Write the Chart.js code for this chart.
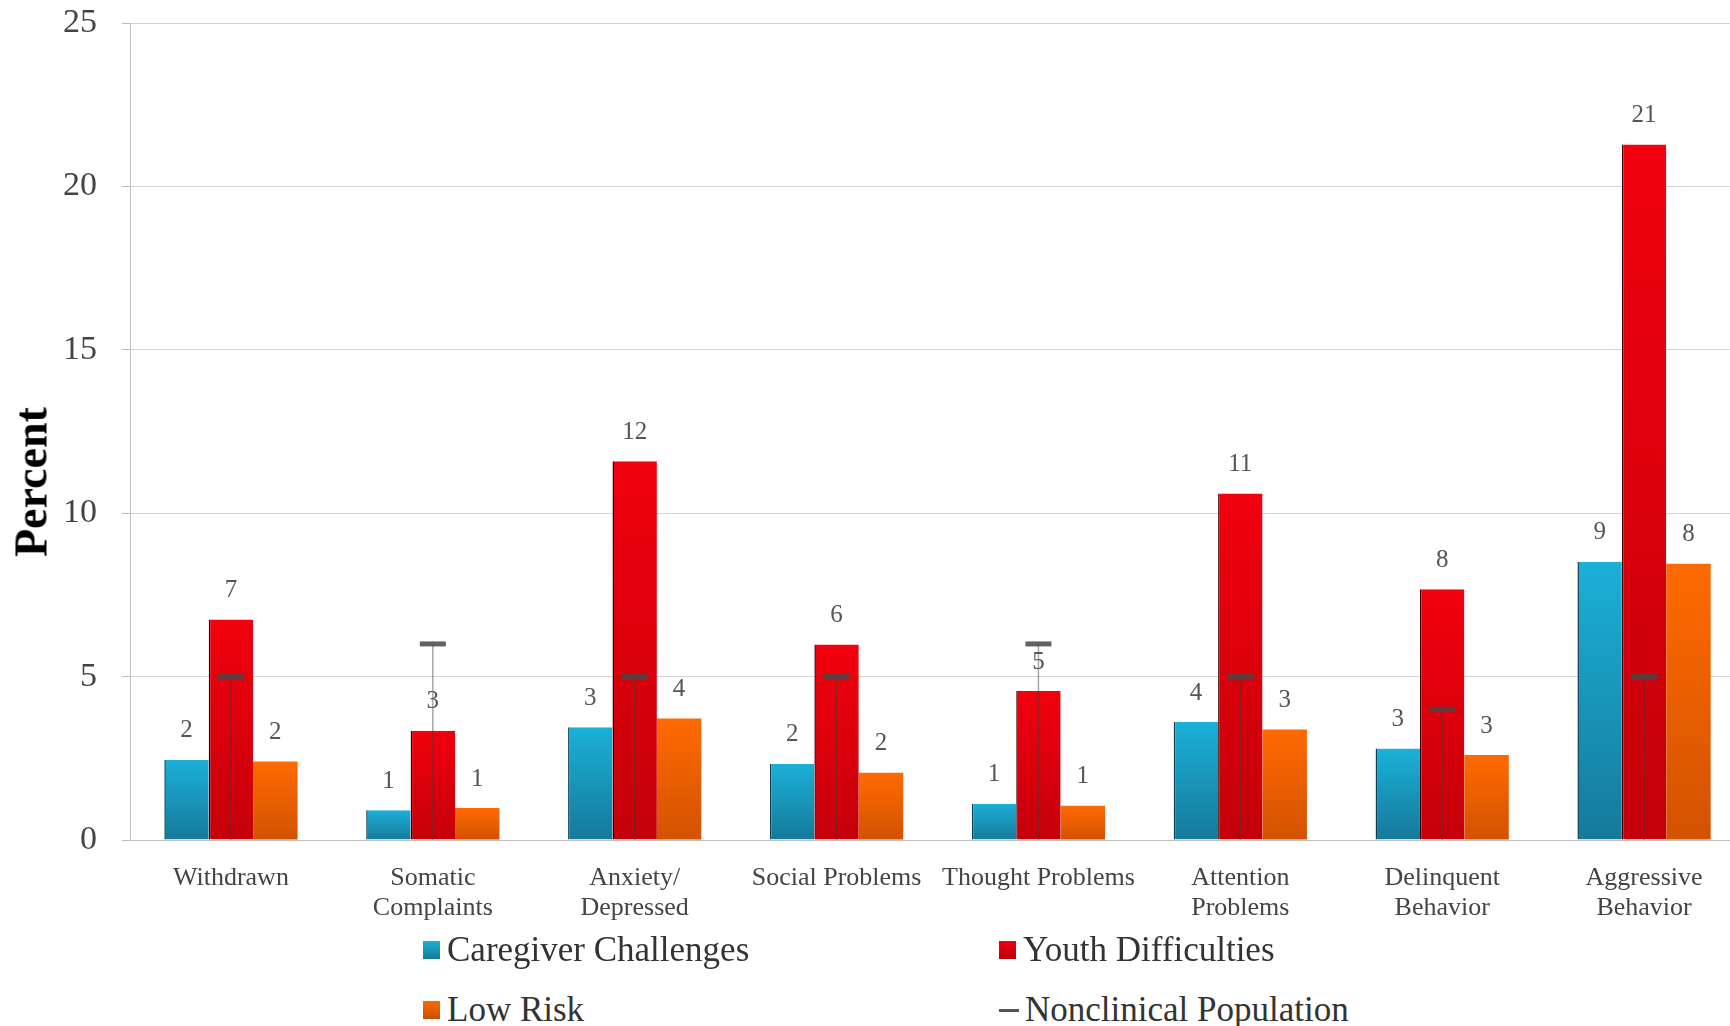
<!DOCTYPE html>
<html>
<head>
<meta charset="utf-8">
<script src="https://cdn.jsdelivr.net/npm/chart.js@4/dist/chart.umd.min.js"></script>
<style>
html, body { margin: 0; padding: 0; background: #fff; overflow: hidden; width: 1730px; height: 1026px; }
#wrap { position: absolute; left: 0; top: 0; width: 1745px; height: 940px; }
#yTitle { position: absolute; left: 31px; top: 482px; transform: translate(-50%, -50%) rotate(-90deg);
  font: bold 46px "Liberation Serif"; color: #000; white-space: nowrap; }
.item { position: absolute; display: flex; align-items: center; font: 35px "Liberation Serif"; color: #333;
  white-space: nowrap; transform: translateY(-50%); }
.box { width: 17px; height: 18px; margin-right: 7px; }
.dash { width: 20px; height: 3px; margin-right: 6px; background: #555; }
</style>
</head>
<body>
<div id="wrap"><canvas id="myChart"></canvas></div>
<div id="yTitle">Percent</div>
<div id="legend"></div>
<script>
'use strict'

let categories = [['Withdrawn'], ['Somatic', 'Complaints'], ['Anxiety/', 'Depressed'], ['Social Problems'],
    ['Thought Problems'], ['Attention', 'Problems'], ['Delinquent', 'Behavior'], ['Aggressive', 'Behavior']]
let caregiver = [2.45, 0.91, 3.45, 2.33, 1.11, 3.61, 2.8, 8.51]
let youth = [6.75, 3.34, 11.59, 5.98, 4.56, 10.6, 7.67, 21.28]
let lowRisk = [2.4, 0.98, 3.72, 2.06, 1.05, 3.38, 2.6, 8.45]
let nonclinical = [5, 6, 5, 5, 6, 5, 4, 5]
let seriesNames = ['Caregiver Challenges', 'Youth Difficulties', 'Low Risk', 'Nonclinical Population']
let yMin = 0
let yMax = 25
let yStep = 5

let serif = 'Liberation Serif'

function barGradient(top, bottom) {
    return function (ctx) {
        let chart = ctx.chart
        if (!chart.chartArea || ctx.raw === undefined) return top
        let y = chart.scales.y
        let y0 = y.getPixelForValue(ctx.raw)
        let y1 = y.getPixelForValue(0)
        if (!isFinite(y0) || y0 === y1) return top
        let g = chart.ctx.createLinearGradient(0, y0, 0, y1)
        g.addColorStop(0, top)
        g.addColorStop(1, bottom)
        return g
    }
}

// thin drop line from each nonclinical mark down to the baseline
let dropLines = {
    id: 'dropLines',
    beforeDatasetDraw(chart, args) {
        if (args.index !== 3) return
        let ctx = chart.ctx
        let base = chart.scales.y.getPixelForValue(0)
        ctx.save()
        ctx.strokeStyle = 'rgba(60,60,60,0.45)'
        ctx.lineWidth = 1.5
        chart.getDatasetMeta(3).data.forEach(function (pt) {
            ctx.beginPath()
            ctx.moveTo(pt.x, pt.y)
            ctx.lineTo(pt.x, base)
            ctx.stroke()
        })
        ctx.restore()
    }
}

let valueLabels = {
    id: 'valueLabels',
    afterDatasetsDraw(chart) {
        let ctx = chart.ctx
        ctx.save()
        ctx.font = '25px "' + serif + '"'
        ctx.fillStyle = '#555'
        ctx.textAlign = 'center'
        ctx.textBaseline = 'middle'
        for (let d = 0; d < 3; d++) {
            let values = chart.data.datasets[d].data
            chart.getDatasetMeta(d).data.forEach(function (bar, i) {
                ctx.fillText(Math.round(values[i]), bar.x, bar.y - 29)
            })
        }
        ctx.restore()
    }
}

let ctx = document.getElementById('myChart')
const myChart = new Chart(ctx, {
    type: 'bar',
    data: {
        labels: categories,
        datasets: [{
            label: seriesNames[0],
            data: caregiver,
            backgroundColor: barGradient('#1bb0d8', '#16799a'),
            borderColor: '#0c3f50',
            borderWidth: { left: 1.5, top: 0, right: 0, bottom: 0 },
            borderSkipped: false,
            order: 1
        }, {
            label: seriesNames[1],
            data: youth,
            backgroundColor: barGradient('#f2000e', '#c4000a'),
            borderColor: '#3a0000',
            borderWidth: { left: 1.5, top: 0, right: 0, bottom: 0 },
            borderSkipped: false,
            order: 1
        }, {
            label: seriesNames[2],
            data: lowRisk,
            backgroundColor: barGradient('#ff6a00', '#d35200'),
            borderWidth: 0,
            order: 1
        }, {
            type: 'line',
            label: seriesNames[3],
            data: nonclinical,
            showLine: false,
            pointStyle: 'line',
            pointRadius: 13,
            pointHoverRadius: 13,
            pointBorderWidth: 5,
            borderColor: 'rgba(70,70,70,0.85)',
            backgroundColor: 'rgba(70,70,70,0.85)',
            order: 0
        }]
    },
    options: {
        responsive: true,
        maintainAspectRatio: false,
        animation: false,
        layout: { autoPadding: false, padding: { top: 23, left: 0, right: 0, bottom: 0 } },
        datasets: {
            bar: { categoryPercentage: 0.66, barPercentage: 1 }
        },
        plugins: {
            legend: { display: false },
            tooltip: { enabled: false }
        },
        scales: {
            x: {
                grid: { display: false, drawTicks: false },
                border: { color: '#bdbdbd', width: 1 },
                ticks: {
                    color: '#444',
                    padding: 23,
                    maxRotation: 0,
                    autoSkip: false,
                    font: { family: serif, size: 26, lineHeight: 1.15 }
                },
                afterFit(scale) { scale.height = 100 }
            },
            y: {
                min: yMin,
                max: yMax,
                // long tick slot keeps the labels away from the axis, only its last 8px is drawn
                grid: { color: '#d4d4d4', tickLength: 33, tickColor: '#bbb', tickBorderDash: [0, 25, 8, 0] },
                border: { color: '#c4c4c4', width: 1 },
                ticks: {
                    stepSize: yStep,
                    color: '#444',
                    padding: 0,
                    font: { family: serif, size: 34 }
                },
                afterFit(scale) { scale.width = 130 }
            }
        }
    },
    plugins: [dropLines, valueLabels]
});

// legend in two columns under the chart
let legendEl = document.getElementById('legend')
let legendPos = [[423, 950], [999, 950], [423, 1010], [999, 1010]]
let legendSwatch = [
    'linear-gradient(#1bb0d8, #16799a)',
    'linear-gradient(#f2000e, #b8000a)',
    'linear-gradient(#ff6a00, #c84e00)',
    null
]
seriesNames.forEach(function (name, i) {
    let item = document.createElement('div')
    item.className = 'item'
    item.style.left = legendPos[i][0] + 'px'
    item.style.top = legendPos[i][1] + 'px'
    let mark = document.createElement('span')
    if (legendSwatch[i]) {
        mark.className = 'box'
        mark.style.background = legendSwatch[i]
    } else {
        mark.className = 'dash'
    }
    item.appendChild(mark)
    let text = document.createElement('span')
    text.textContent = name
    item.appendChild(text)
    legendEl.appendChild(item)
})
</script>
</body>
</html>
